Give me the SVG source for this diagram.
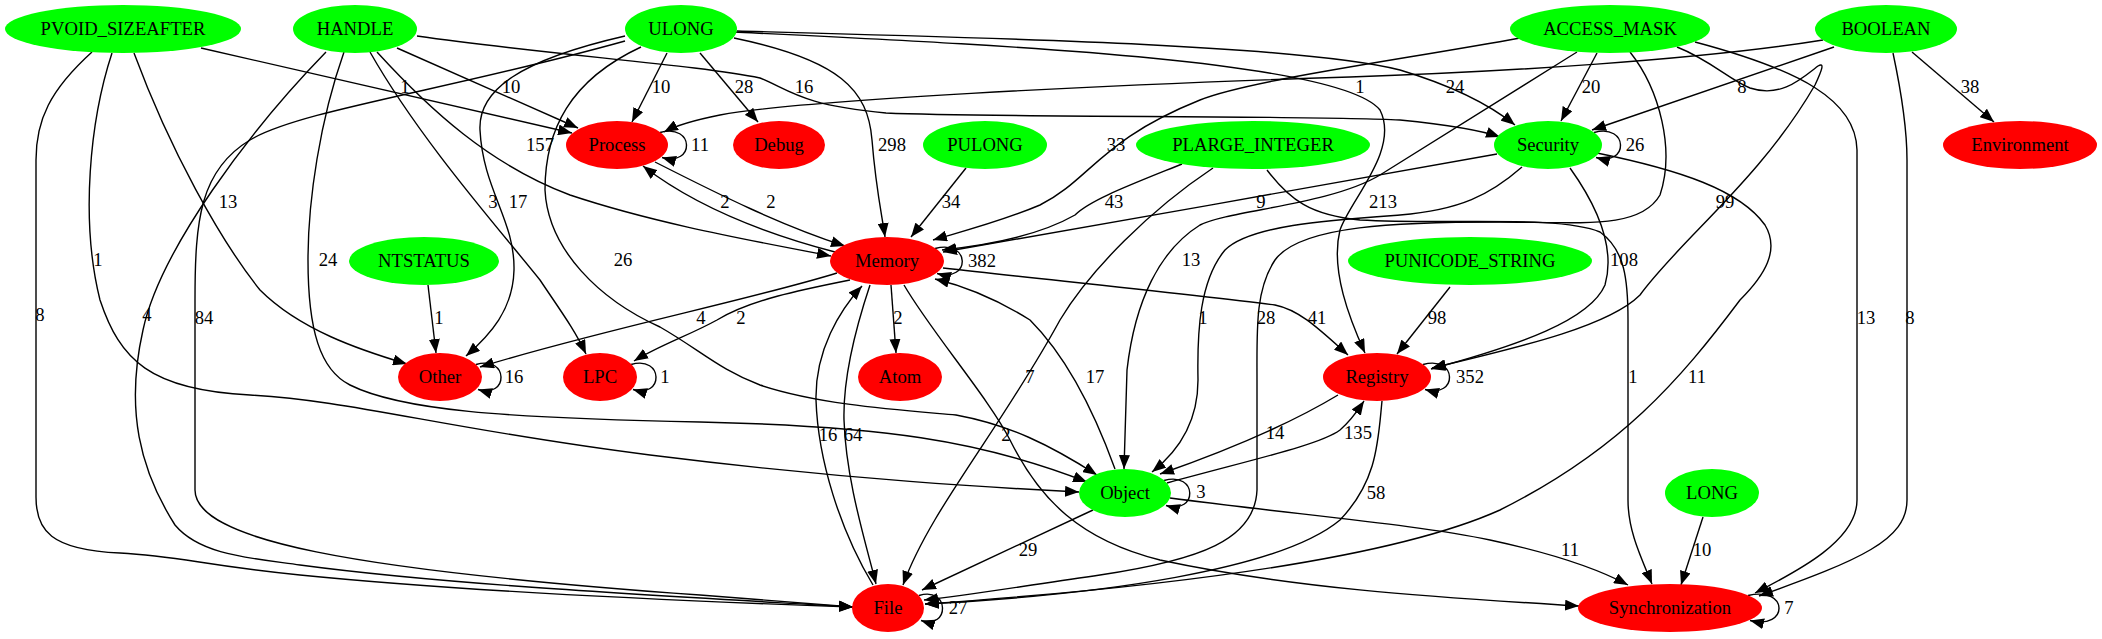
<svg xmlns="http://www.w3.org/2000/svg" width="2102" height="639" viewBox="0 0 2102 639">
<style>
text{font-family:"Liberation Serif","Times New Roman",serif;font-size:18.67px;text-anchor:middle;fill:#000}
.g{fill:#00ff00}
.r{fill:#ff0000}
#edges path{fill:none;stroke:#000;stroke-width:1.4;marker-end:url(#ah)}
</style>
<defs>
<marker id="ah" markerUnits="userSpaceOnUse" markerWidth="14" markerHeight="11" refX="14" refY="5.5" orient="auto"><path d="M0,0 L14,5.5 L0,11 z" fill="#000"/></marker>
</defs>
<rect width="2102" height="639" fill="#fff"/>
<g id="edges">
<path d="M201,48 L572,133"/>
<path d="M397,48 L578,128"/>
<path d="M667,53 L632,122"/>
<path d="M700,53 L758,122"/>
<path d="M734,38 C840,60 868,90 872,140 C876,190 882,215 885,237"/>
<path d="M737,31 C1000,38 1300,45 1400,70 C1450,85 1490,105 1515,125"/>
<path d="M734,32 C1000,45 1340,60 1380,110 C1400,150 1350,200 1340,230 C1330,270 1350,320 1365,353"/>
<path d="M625,36 C520,60 478,90 480,130 C483,190 515,220 514,270 C513,310 490,335 466,356"/>
<path d="M625,41 C450,90 300,110 250,140 C200,170 195,220 195,300 L195,490 C195,540 350,570 700,595 L853,607"/>
<path d="M326,52 C250,130 160,250 143,330 C125,410 140,470 175,525 C200,555 250,558 300,565 C450,585 650,595 853,607"/>
<path d="M92,52 C50,90 36,120 36,160 L36,497 C36,530 50,550 120,553 C180,556 200,565 300,575 C450,590 650,600 853,607"/>
<path d="M134,53 C170,150 220,240 260,290 C300,330 360,350 407,364"/>
<path d="M112,53 C90,120 80,220 100,300 C120,360 150,390 250,395 C350,400 450,430 650,455 C850,480 1000,488 1079,492"/>
<path d="M344,52 C320,120 308,200 308,260 C308,330 320,370 350,385 C400,410 500,418 700,422 C880,426 980,440 1087,482"/>
<path d="M641,47 C570,80 545,130 545,190 C548,250 600,300 660,327 C700,350 720,370 760,385 C820,405 900,410 956,415 C1010,425 1050,445 1097,475"/>
<path d="M417,36 C550,55 700,65 760,78 C790,90 800,105 886,113 C1000,118 1300,115 1400,120 C1450,125 1480,130 1500,137"/>
<path d="M377,52 C430,110 490,165 570,195 C660,225 760,242 831,256"/>
<path d="M655,162 C720,195 780,225 845,246"/>
<path d="M835,252 C770,235 700,210 643,166"/>
<path d="M370,52 C420,140 500,230 540,280 C560,310 575,330 586,354"/>
<path d="M428,285 L436,353"/>
<path d="M837,273 C750,300 600,330 480,367"/>
<path d="M850,280 C800,290 750,300 717,320 C690,335 660,345 634,361"/>
<path d="M891,285 L896,353"/>
<path d="M870,285 C855,330 843,380 844,420 C846,480 865,540 876,584"/>
<path d="M873,585 C840,530 818,460 816,400 C815,350 840,310 862,286"/>
<path d="M904,285 C930,330 990,400 1010,440 C1040,500 1080,540 1160,560 C1300,590 1450,598 1579,606"/>
<path d="M1213,168 C1150,210 1090,270 1060,320 C1000,430 930,510 903,585"/>
<path d="M1182,164 C1130,185 1090,200 1075,215 C1040,235 990,245 942,250"/>
<path d="M966,168 L911,237"/>
<path d="M1520,38 C1400,60 1250,80 1200,100 C1100,140 1090,180 1040,205 C1000,222 960,232 933,240"/>
<path d="M1497,154 C1350,180 1100,225 943,252"/>
<path d="M1823,40 C1700,60 1500,72 1350,77 C1100,85 800,100 720,115 C695,120 675,126 664,132"/>
<path d="M1577,52 C1500,100 1420,150 1380,175 C1330,205 1230,210 1200,225 C1160,250 1135,300 1127,370 L1124,469"/>
<path d="M1522,167 C1490,195 1460,210 1400,215 C1330,220 1250,225 1225,250 C1200,280 1197,330 1198,380 C1198,420 1180,450 1152,472"/>
<path d="M1630,52 C1660,90 1675,150 1660,195 C1640,230 1580,222 1500,222 C1400,222 1300,225 1275,260 C1255,290 1257,330 1257,380 L1257,490 C1255,540 1200,560 1100,575 C1030,585 970,595 924,600"/>
<path d="M1267,170 C1290,200 1310,215 1360,220 C1450,225 1560,215 1600,232 C1625,250 1628,280 1628,320 L1628,500 C1628,530 1640,555 1652,584"/>
<path d="M1570,168 C1600,210 1615,250 1605,285 C1590,320 1520,345 1431,369"/>
<path d="M1677,47 C1710,60 1730,80 1750,88 C1780,98 1800,80 1818,66 C1825,62 1822,70 1815,85 C1760,180 1680,240 1640,295 C1610,325 1530,345 1432,368"/>
<path d="M1834,47 L1592,130"/>
<path d="M1597,53 L1561,121"/>
<path d="M1912,52 L1994,122"/>
<path d="M1695,42 C1800,70 1856,100 1857,150 L1857,500 C1857,540 1800,570 1755,593"/>
<path d="M1893,53 C1903,100 1907,130 1907,160 L1907,500 C1907,540 1860,560 1759,596"/>
<path d="M1597,153 C1680,170 1740,190 1765,225 C1780,250 1765,275 1740,300 C1680,380 1620,450 1500,510 C1400,555 1200,585 925,604"/>
<path d="M1382,401 C1378,440 1378,480 1340,520 C1280,570 1100,595 925,604"/>
<path d="M1338,395 C1280,430 1200,460 1160,474"/>
<path d="M1167,483 C1250,460 1320,445 1340,430 C1352,420 1358,410 1364,401"/>
<path d="M943,268 C1050,280 1200,295 1275,305 C1300,310 1320,330 1348,355"/>
<path d="M1450,287 L1397,354"/>
<path d="M1115,469 C1090,400 1060,350 1030,320 C990,295 960,285 935,279"/>
<path d="M1093,510 L922,590"/>
<path d="M1170,498 C1300,515 1420,525 1490,540 C1560,555 1600,570 1628,585"/>
<path d="M1703,517 L1681,585"/>
<path d="M660,132.5 C695,123 695,167 662,157.5"/>
<path d="M935,248.5 C971,239 971,283 937,273.5"/>
<path d="M476,364.5 C509,355 509,399 478,389.5"/>
<path d="M631,364.5 C664,355 664,399 633,389.5"/>
<path d="M1594,132.5 C1629,123 1629,167 1596,157.5"/>
<path d="M1423,364.5 C1458,355 1458,399 1425,389.5"/>
<path d="M1164,480.5 C1198,471 1198,515 1166,505.5"/>
<path d="M919,595.5 C950,586 950,630 921,620.5"/>
<path d="M1748,595.5 C1789,586 1789,630 1750,620.5"/>
</g>
<g id="edge-labels">
<text x="405" y="93">1</text>
<text x="511" y="93">10</text>
<text x="661" y="93">10</text>
<text x="744" y="93">28</text>
<text x="892" y="151">298</text>
<text x="1455" y="93">24</text>
<text x="1383" y="208">213</text>
<text x="518" y="208">17</text>
<text x="204" y="324">84</text>
<text x="147" y="321">4</text>
<text x="40" y="321">8</text>
<text x="228" y="208">13</text>
<text x="98" y="266">1</text>
<text x="328" y="266">24</text>
<text x="623" y="266">26</text>
<text x="804" y="93">16</text>
<text x="540" y="151">157</text>
<text x="771" y="208">2</text>
<text x="725" y="208">2</text>
<text x="493" y="208">3</text>
<text x="439" y="324">1</text>
<text x="701" y="324">4</text>
<text x="741" y="324">2</text>
<text x="898" y="324">2</text>
<text x="853" y="441">64</text>
<text x="828" y="441">16</text>
<text x="1006" y="441">2</text>
<text x="1030" y="383">7</text>
<text x="1114" y="208">43</text>
<text x="951" y="208">34</text>
<text x="1116" y="151">33</text>
<text x="1261" y="208">9</text>
<text x="1360" y="93">1</text>
<text x="1191" y="266">13</text>
<text x="1203" y="324">1</text>
<text x="1266" y="324">28</text>
<text x="1633" y="383">1</text>
<text x="1624" y="266">108</text>
<text x="1725" y="208">99</text>
<text x="1742" y="93">8</text>
<text x="1591" y="93">20</text>
<text x="1970" y="93">38</text>
<text x="1866" y="324">13</text>
<text x="1910" y="324">8</text>
<text x="1697" y="383">11</text>
<text x="1376" y="499">58</text>
<text x="1275" y="439">14</text>
<text x="1358" y="439">135</text>
<text x="1317" y="324">41</text>
<text x="1437" y="324">98</text>
<text x="1095" y="383">17</text>
<text x="1028" y="556">29</text>
<text x="1570" y="556">11</text>
<text x="1702" y="556">10</text>
<text x="700" y="151">11</text>
<text x="982" y="267">382</text>
<text x="514" y="383">16</text>
<text x="665" y="383">1</text>
<text x="1635" y="151">26</text>
<text x="1470" y="383">352</text>
<text x="1201" y="498">3</text>
<text x="958" y="614">27</text>
<text x="1789" y="614">7</text>
</g>
<g id="n-PVOID_SIZEAFTER"><ellipse class="g" cx="123" cy="29" rx="118" ry="24"/><text x="123" y="35">PVOID_SIZEAFTER</text></g>
<g id="n-HANDLE"><ellipse class="g" cx="355" cy="29" rx="62" ry="24"/><text x="355" y="35">HANDLE</text></g>
<g id="n-ULONG"><ellipse class="g" cx="681" cy="29" rx="56" ry="24"/><text x="681" y="35">ULONG</text></g>
<g id="n-ACCESS_MASK"><ellipse class="g" cx="1610" cy="29" rx="100" ry="24"/><text x="1610" y="35">ACCESS_MASK</text></g>
<g id="n-BOOLEAN"><ellipse class="g" cx="1886" cy="29" rx="71" ry="24"/><text x="1886" y="35">BOOLEAN</text></g>
<g id="n-Process"><ellipse class="r" cx="617" cy="145" rx="51" ry="24"/><text x="617" y="151">Process</text></g>
<g id="n-Debug"><ellipse class="r" cx="779" cy="145" rx="46" ry="24"/><text x="779" y="151">Debug</text></g>
<g id="n-PULONG"><ellipse class="g" cx="985" cy="145" rx="62" ry="24"/><text x="985" y="151">PULONG</text></g>
<g id="n-PLARGE_INTEGER"><ellipse class="g" cx="1253" cy="145" rx="117" ry="24"/><text x="1253" y="151">PLARGE_INTEGER</text></g>
<g id="n-Security"><ellipse class="g" cx="1548" cy="145" rx="54" ry="24"/><text x="1548" y="151">Security</text></g>
<g id="n-Environment"><ellipse class="r" cx="2020" cy="145" rx="77" ry="24"/><text x="2020" y="151">Environment</text></g>
<g id="n-NTSTATUS"><ellipse class="g" cx="424" cy="261" rx="75" ry="24"/><text x="424" y="267">NTSTATUS</text></g>
<g id="n-Memory"><ellipse class="r" cx="887" cy="261" rx="57" ry="24"/><text x="887" y="267">Memory</text></g>
<g id="n-PUNICODE_STRING"><ellipse class="g" cx="1470" cy="261" rx="122" ry="24"/><text x="1470" y="267">PUNICODE_STRING</text></g>
<g id="n-Other"><ellipse class="r" cx="440" cy="377" rx="42" ry="24"/><text x="440" y="383">Other</text></g>
<g id="n-LPC"><ellipse class="r" cx="600" cy="377" rx="37" ry="24"/><text x="600" y="383">LPC</text></g>
<g id="n-Atom"><ellipse class="r" cx="900" cy="377" rx="42" ry="24"/><text x="900" y="383">Atom</text></g>
<g id="n-Registry"><ellipse class="r" cx="1377" cy="377" rx="54" ry="24"/><text x="1377" y="383">Registry</text></g>
<g id="n-Object"><ellipse class="g" cx="1125" cy="493" rx="46" ry="24"/><text x="1125" y="499">Object</text></g>
<g id="n-LONG"><ellipse class="g" cx="1712" cy="493" rx="47" ry="24"/><text x="1712" y="499">LONG</text></g>
<g id="n-File"><ellipse class="r" cx="888" cy="608" rx="36" ry="24"/><text x="888" y="614">File</text></g>
<g id="n-Synchronization"><ellipse class="r" cx="1670" cy="608" rx="92" ry="24"/><text x="1670" y="614">Synchronization</text></g>
</svg>
